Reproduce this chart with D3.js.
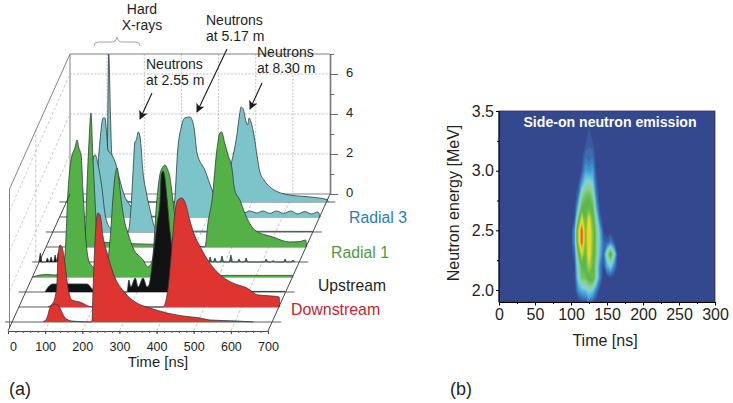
<!DOCTYPE html>
<html>
<head>
<meta charset="utf-8">
<script src="https://cdn.jsdelivr.net/npm/d3@7"></script>
<style>
	html, body { margin: 0; padding: 0; background: #fff; }
	svg { display: block; }
	text { font-family: "Liberation Sans", Arial, sans-serif; fill: #231f20; }
</style>
</head>
<body>
<svg id="chart" width="733" height="403"></svg>
<script>
// waterfall traces as [time ns, amplitude], slice 0 is the front one
const downstreamNear = [[83,0],[94,.2],[102,.7],[116,.9],[124,.85],[134,.5],[143,.2],[161,.05],[210,0],[215,.05],[218,1.6],[223,3.95],[231,5.45],[237,5.35],[245,4.25],[256,3.45],[272,2.45],[304,1.45],[336,.95],[371,.7],[417,.45],[460,.3],[506,.2],[533,.1],[605,.05],[650,0]];
const downstreamFar = [[78,0],[92,.2],[102,1],[105,2.35],[111,3.1],[116,3],[124,2.2],[132,1],[143,.35],[164,.25],[197,0],[388,0],[401,.85],[412,3],[420,4.7],[428,5.35],[439,5.45],[447,5.25],[460,4.35],[468,3.85],[493,2.85],[522,2],[549,1.5],[576,1.2],[614,.95],[644,.6],[681,.55],[701,.5],[702,0]];
const upstreamNear = [[52,0],[61,.25],[74,.4],[165,.4],[182,.1],[190,0],[273,0],[278,.6],[283,.25],[295,.7],[303,.25],[316,.7],[327,.25],[332,.35],[343,1.75],[354,3.45],[362,4.6],[365,5.85],[370,6.05],[375,5.7],[381,4.6],[389,2.95],[394,2.25],[405,1],[421,.2],[442,.03],[698,.03]];
const radial1Near = [[2,0],[21,.1],[42,.12],[61,.1],[80,.25],[88,1.2],[96,4.35],[104,5.85],[115,6.5],[120,6.85],[125,6.45],[131,6.1],[136,4.35],[144,1.85],[153,.75],[169,.45],[196,.35],[209,1.85],[217,4],[222,5],[228,5.45],[233,4.85],[239,3.85],[249,2.7],[257,2.2],[271,1.45],[298,.85],[311,.5],[322,.75],[335,3.85],[343,5.1],[351,5.5],[357,5.6],[362,5.45],[370,5],[378,3.85],[386,2.6],[397,1.1],[413,.25],[451,.05],[524,.08],[700,.08],[701,0]];
const upstreamSpikes = [[3,.45],[22,.2],[32,.25],[43,.35],[51,.45]];
const radial1Spikes = [[460,.25],[473,.2],[492,.3],[516,.35],[538,.15],[557,.2],[611,.15],[630,.08],[662,.15],[683,.1]];
const radial1Far = [[105,0],[110,2.85],[116,5.35],[121,6.7],[126,4.6],[132,2.35],[137,.75],[139,1.1],[141,.6],[143,.9],[145,.25],[414,.03],[428,0],[436,1.2],[447,2.35],[460,4.85],[468,5.7],[473,5.75],[481,5.2],[490,4.6],[500,4],[508,2.85],[522,2.35],[535,1.7],[562,.85],[611,.5],[656,.25],[683,.27],[699,.35],[702,0]];
const radial3Near = [[95,0],[102,2],[109,3.75],[114,3.85],[122,3.35],[133,2.1],[141,.85],[155,.2],[203,0],[211,1.35],[217,3.35],[221,4.5],[225,4.6],[230,5],[235,4.75],[243,2.95],[252,1.95],[262,1.1],[276,.2],[303,.05],[700,.03]];
const radial3Mid = [[90,0],[98,1.35],[109,3.85],[117,4.95],[122,4.95],[127,4.1],[130,3.35],[141,3.1],[152,2.6],[162,1.85],[176,1],[189,.6],[205,.25],[243,.05],[302,0],[310,.85],[318,3.35],[327,4.45],[337,4.95],[351,5],[362,4.45],[370,3.2],[391,2.35],[413,1.25],[437,.6],[464,.35],[499,.22],[512,.3],[531,.2],[547,.3],[566,.18],[584,.3],[603,.18],[623,.3],[641,.15],[660,.27],[679,.15],[695,.25],[701,.05],[702,0]];
const radial3Far = [[91,0],[102,1.6],[110,2.6],[114,7.4],[119,4.1],[123,2.1],[145,.6],[172,0],[400,0],[427,.85],[446,2.1],[457,3.1],[467,4.45],[470,4.75],[476,4.65],[484,4],[488,3.85],[492,4.2],[497,4],[505,3.35],[513,2.35],[521,1.5],[532,1.1],[548,.75],[570,.5],[602,.35],[656,.25],[702,.12],[705,0]];

const waterfallTicks = [0,100,200,300,400,500,600,700];
const heightTicks = [0,2,4,6];
const heightMinorTicks = [1,3,5,7];

// neutron spectrogram
const heatTimes = [95,100,105,110,115,120,125,130,135,140,145,150,155,160,165];
const heatEnergies = [3.5,3.4,3.3,3.2,3.1,3.0,2.9,2.8,2.7,2.6,2.5,2.4,2.3,2.2,2.1,2.0,1.9];
const heatValues = [
	[0,0,0,0,0,0,0,0,0,0,0,0,0,0,0],
	[0,0,0,0,0,0,.2,0,0,0,0,0,0,0,0],
	[0,0,0,0,0,0,.4,.1,0,0,0,0,0,0,0],
	[0,0,0,0,0,.3,.5,.4,0,0,0,0,0,0,0],
	[0,0,0,0,.1,.8,.6,.8,.1,0,0,0,0,0,0],
	[0,0,0,0,.3,1.4,1.2,1.4,.2,0,0,0,0,0,0],
	[0,0,0,.1,1.3,2.4,2.6,2.2,.4,0,0,0,0,0,0],
	[0,0,0,.6,3,4,4.2,3.4,.8,0,0,0,0,0,0],
	[0,0,0,1.8,4.5,4.7,5.2,4.4,1.6,.1,0,0,0,0,0],
	[0,0,.3,3.8,7.4,5,7.6,5.2,2.8,.6,0,0,0,0,0],
	[0,0,1.2,6.4,10,5.6,8.3,6,3.6,1.8,.2,0,0,0,0],
	[0,0,1.2,6.4,10,5.5,8.3,6,3.6,2,.6,.4,1,.3,0],
	[0,0,.6,4,7.2,5,8.2,5.6,3.6,1.8,.5,3,5.2,2.6,0],
	[0,0,.2,2.9,4.6,4.7,7,5.2,3,1,.2,1.6,2.4,1,0],
	[0,0,.1,2.4,4,4,5,5.4,3,1,0,0,0,0,0],
	[0,0,0,1.2,1.8,2,2.6,2.2,1,.1,0,0,0,0,0],
	[0,0,0,0,.1,.3,.8,.4,0,0,0,0,0,0,0]
];
const timeTicks = [0,50,100,150,200,250,300];
const timeMinorTicks = [25,75,125,175,225,275];
const energyTicks = [2.0,2.5,3.0,3.5];
const energyMinorTicks = [2.25,2.75,3.25];

!(function(){
	"use strict";

	const svg = d3.select('#chart');
	const cyan = '#7cc4c9', green = '#54b147', red = '#de3530', black = '#111214';
	const outline = '#2f3a3c';

	// ---- panel (a), three axes projected on the page
	const xTime = d3.scaleLinear().domain([0, 700]).range([8, 268]);
	const yHeight = d3.scaleLinear().domain([0, 7]).range([0, -140]);
	const ySlice = d3.scaleLinear().domain([-0.6, 8.533]).range([331, 194]);
	const xSlice = d3.scaleLinear().domain([-0.6, 8.533]).range([0, 62]);
	const backSlice = 8.533, frontSlice = -0.6;

	const px = (t, s) => xTime(t) + xSlice(s);
	const py = (a, s) => ySlice(s) + yHeight(a);

	const walls = svg.append('g').attr('fill', 'none');

	function wallLine(x1, y1, x2, y2, colour, width, dash) {
		walls.append('line')
			.attr('x1', x1).attr('y1', y1).attr('x2', x2).attr('y2', y2)
			.attr('stroke', colour).attr('stroke-width', width)
			.attr('stroke-dasharray', dash || null);
	}

	// dotted grid on floor, back wall and side wall
	waterfallTicks.slice(1, -1).forEach((t) => {
		wallLine(px(t, backSlice), py(7, backSlice), px(t, backSlice), py(0, backSlice), '#a9a9a9', 0.7, '2,1.5');
		wallLine(px(t, frontSlice), py(0, frontSlice), px(t, backSlice), py(0, backSlice), '#a9a9a9', 0.7, '3,2');
	});
	heightTicks.slice(1).forEach((a) => {
		wallLine(px(0, backSlice), py(a, backSlice), px(700, backSlice), py(a, backSlice), '#a9a9a9', 0.7, '2,1.5');
		wallLine(px(0, frontSlice) + 1.5, py(a, frontSlice), px(0, backSlice), py(a, backSlice), '#b5b5b5', 0.7, '3,2');
	});
	wallLine(px(0, 3.5), py(7, 3.5), px(0, 3.5), py(0, 3.5), '#a9a9a9', 0.7, '3,2');

	wallLine(px(0, backSlice), py(7, backSlice), px(700, backSlice), py(7, backSlice), '#808080', 1);
	wallLine(px(0, backSlice), py(0, backSlice), px(700, backSlice), py(0, backSlice), '#808080', 1);
	wallLine(px(0, backSlice), py(7, backSlice), px(0, backSlice), py(0, backSlice), '#b0b0b0', 1.6);
	wallLine(px(0, frontSlice) + 1.5, py(7, frontSlice) - 2, px(0, backSlice), py(7, backSlice), '#777', 0.9);
	wallLine(px(0, frontSlice) + 1.5, py(7, frontSlice) - 2, px(0, frontSlice) + 1.5, py(0, frontSlice) - 3, '#666', 0.8);

	// back to front so nearer traces hide farther ones
	const spikes = (list) => list.flatMap((d) => [[d[0] - 4, 0], [d[0], d[1]], [d[0] + 4, 0]]);
	const traces = [
		{ slice: 8, points: radial3Far, fill: cyan },
		{ slice: 7, points: radial3Mid, fill: cyan },
		{ slice: 6, points: radial3Near, fill: cyan },
		{ slice: 5, points: radial1Far, fill: green },
		{ slice: 4, points: spikes(upstreamSpikes), fill: black, sharp: true },
		{ slice: 4, points: spikes(radial1Spikes), fill: '#2f7d35', sharp: true },
		{ slice: 3, points: radial1Near, fill: green },
		{ slice: 2, points: upstreamNear, fill: black },
		{ slice: 1, points: downstreamFar, fill: red },
		{ slice: 0, points: downstreamNear, fill: red }
	];

	const traceGroup = svg.append('g');
	const baseline = (s) => {
		let long = s % 2 === 0;
		traceGroup.append('line')
			.attr('x1', px(0, s) - (long ? 7 : 0))
			.attr('x2', px(700, s) + (long ? 9 : 0))
			.attr('y1', py(0, s)).attr('y2', py(0, s))
			.attr('stroke', '#4c4c4c').attr('stroke-width', 0.9);
	};

	traces.forEach((tr, i) => {
		const curve = tr.sharp ? d3.curveLinear : d3.curveMonotoneX;
		const area = d3.area().curve(curve)
			.x((d) => px(d[0], tr.slice))
			.y0(py(0, tr.slice))
			.y1((d) => py(d[1], tr.slice));
		const top = d3.line().curve(curve)
			.x((d) => px(d[0], tr.slice))
			.y((d) => py(d[1], tr.slice));
		if (!traces[i - 1] || traces[i - 1].slice !== tr.slice) baseline(tr.slice);
		traceGroup.append('path').attr('d', area(tr.points)).attr('fill', tr.fill);
		traceGroup.append('path').attr('d', top(tr.points))
			.attr('fill', 'none').attr('stroke', outline).attr('stroke-width', 0.8);
	});

	// front edges of the floor
	svg.append('line')
		.attr('x1', px(0, frontSlice)).attr('y1', py(0, frontSlice))
		.attr('x2', px(0, backSlice)).attr('y2', py(0, backSlice))
		.attr('stroke', '#333').attr('stroke-width', 0.9);
	svg.append('line')
		.attr('x1', px(700, frontSlice)).attr('y1', py(0, frontSlice))
		.attr('x2', px(700, backSlice)).attr('y2', py(0, backSlice))
		.attr('stroke', '#333').attr('stroke-width', 0.9);

	// time axis at the front
	const axisTime = svg.append('g')
		.attr('transform', `translate(0,${py(0, frontSlice)})`)
		.call(d3.axisBottom(xTime).tickValues(waterfallTicks).tickSize(3).tickSizeOuter(0).tickPadding(8));
	axisTime.select('.domain').attr('stroke', '#333').attr('stroke-width', 0.9);
	axisTime.selectAll('line').attr('stroke', '#333');
	axisTime.selectAll('text').attr('font-size', 12.5).attr('font-family', null)
		.attr('dx', (d) => d === 0 ? 5 : 0);
	svg.append('g')
		.attr('transform', `translate(0,${py(0, frontSlice)})`)
		.call(d3.axisBottom(xTime).tickValues(d3.range(0, 701, 20)).tickSize(2).tickSizeOuter(0).tickFormat(''))
		.call((g) => g.select('.domain').remove())
		.selectAll('line').attr('stroke', '#555');

	// height axis on the back wall
	const yBack = d3.scaleLinear().domain([0, 7]).range([py(0, backSlice), py(7, backSlice)]);
	const axisBack = svg.append('g')
		.attr('transform', `translate(${px(700, backSlice)},0)`)
		.call(d3.axisRight(yBack).tickValues(heightTicks).tickFormat(d3.format('d')).tickSize(8).tickSizeOuter(0).tickPadding(8));
	axisBack.select('.domain').attr('stroke', '#777').attr('stroke-width', 1.6);
	axisBack.selectAll('line').attr('stroke', '#666');
	axisBack.selectAll('text').attr('font-size', 13).attr('font-family', null).attr('dy', '0.2em');
	svg.append('g')
		.attr('transform', `translate(${px(700, backSlice)},0)`)
		.call(d3.axisRight(yBack).tickValues(heightMinorTicks).tickSize(4).tickSizeOuter(0).tickFormat(''))
		.call((g) => g.select('.domain').remove())
		.selectAll('line').attr('stroke', '#666');

	// labels and arrows
	const label = (x, y, txt, size, colour, anchor) => svg.append('text')
		.attr('x', x).attr('y', y).attr('font-size', size)
		.attr('text-anchor', anchor || 'start')
		.style('fill', colour || null)
		.text(txt);

	label(158, 367, 'Time [ns]', 14.8, null, 'middle');
	label(142, 14, 'Hard', 14, null, 'middle');
	label(142, 30, 'X-rays', 14, null, 'middle');
	label(146, 69, 'Neutrons', 14);
	label(146, 85, 'at 2.55 m', 14);
	label(206, 25, 'Neutrons', 14);
	label(206, 41, 'at 5.17 m', 14);
	label(257, 57, 'Neutrons', 14);
	label(257, 73, 'at 8.30 m', 14);
	label(349, 223, 'Radial 3', 15.8, '#2b7fb0');
	label(331, 258, 'Radial 1', 15.8, '#4f9a45');
	label(318, 291, 'Upstream', 15.7, '#231f20');
	label(291, 315, 'Downstream', 15.9, '#c1272d');
	label(9, 395, '(a)', 18);
	label(450, 395, '(b)', 18);

	svg.append('defs').append('marker')
		.attr('id', 'head').attr('viewBox', '0 0 10 10')
		.attr('refX', 9).attr('refY', 5)
		.attr('markerUnits', 'userSpaceOnUse')
		.attr('markerWidth', 9).attr('markerHeight', 9).attr('orient', 'auto')
		.append('path').attr('d', 'M0,0L10,5L0,10L2.5,5Z').attr('fill', '#1a1a1a');
	[[152, 93, 140, 119], [227, 49, 197, 112], [262, 83, 250, 109]].forEach((a) => {
		svg.append('line')
			.attr('x1', a[0]).attr('y1', a[1]).attr('x2', a[2]).attr('y2', a[3])
			.attr('stroke', '#1a1a1a').attr('stroke-width', 1.1)
			.attr('marker-end', 'url(#head)');
	});
	svg.append('path')
		.attr('d', 'M94,46 Q94,42 98,42 L113,42 Q116,42 117,37 Q118,42 121,42 L136,42 Q140,42 140,46')
		.attr('fill', 'none').attr('stroke', '#999').attr('stroke-width', 0.9);

	// ---- panel (b)
	const xHeat = d3.scaleLinear().domain([0, 300]).range([499, 715]);
	const yHeat = d3.scaleLinear().domain([2.0, 3.5]).range([290, 111]);
	const heatBottom = 302;

	const defs = svg.select('defs');
	defs.append('clipPath').attr('id', 'heatClip').append('rect')
		.attr('x', xHeat(0)).attr('y', yHeat(3.5))
		.attr('width', xHeat(300) - xHeat(0)).attr('height', heatBottom - yHeat(3.5));
	defs.append('filter').attr('id', 'soft')
		.attr('x', '-10%').attr('y', '-10%').attr('width', '120%').attr('height', '120%')
		.append('feGaussianBlur').attr('stdDeviation', 0.7);

	const heatColour = d3.scaleLinear()
		.domain([0, .5, 1.3, 2.2, 3.2, 4.6, 6, 7.6, 8.6, 10])
		.range(['#34488f', '#3a6cb0', '#45a5e0', '#7fd3d8', '#8fd08a', '#55b54a', '#8cc63f', '#f4e22c', '#f6a623', '#e2402a'])
		.interpolate(d3.interpolateRgb);

	svg.append('rect')
		.attr('x', xHeat(0)).attr('y', yHeat(3.5))
		.attr('width', xHeat(300) - xHeat(0)).attr('height', heatBottom - yHeat(3.5))
		.attr('fill', heatColour(0));

	const cols = heatTimes.length, rows = heatEnergies.length;
	const contours = d3.contours().size([cols, rows]).smooth(true)
		.thresholds(d3.range(0.25, 10, 0.25))(heatValues.flat());
	const heatPath = d3.geoPath(d3.geoTransform({
		point: function(gx, gy) {
			let t = heatTimes[0] + (gx - 0.5) * (heatTimes[1] - heatTimes[0]),
				e = heatEnergies[0] + (gy - 0.5) * (heatEnergies[1] - heatEnergies[0]);
			this.stream.point(xHeat(t), yHeat(e));
		}
	}));
	svg.append('g').attr('clip-path', 'url(#heatClip)')
		.append('g').attr('filter', 'url(#soft)')
		.selectAll('path').data(contours).enter().append('path')
		.attr('d', heatPath)
		.attr('fill', (d) => heatColour(d.value));

	svg.append('rect')
		.attr('x', xHeat(0)).attr('y', yHeat(3.5))
		.attr('width', xHeat(300) - xHeat(0)).attr('height', heatBottom - yHeat(3.5))
		.attr('fill', 'none').attr('stroke', '#333').attr('stroke-width', 0.8);

	const axisX = svg.append('g')
		.attr('transform', `translate(0,${heatBottom})`)
		.call(d3.axisBottom(xHeat).tickValues(timeTicks).tickSize(3.5).tickSizeOuter(0).tickPadding(3));
	axisX.selectAll('text').attr('font-size', 16).attr('font-family', null);
	svg.append('g')
		.attr('transform', `translate(0,${heatBottom})`)
		.call(d3.axisBottom(xHeat).tickValues(timeMinorTicks).tickSize(2).tickSizeOuter(0).tickFormat(''))
		.call((g) => g.select('.domain').remove());

	const axisY = svg.append('g')
		.attr('transform', `translate(${xHeat(0)},0)`)
		.call(d3.axisLeft(yHeat).tickValues(energyTicks).tickFormat(d3.format('.1f')).tickSize(3).tickSizeOuter(0).tickPadding(2));
	axisY.select('.domain').attr('d', `M0,${yHeat(3.5)}V${heatBottom}`);
	axisY.selectAll('text').attr('font-size', 16).attr('font-family', null);
	svg.append('g')
		.attr('transform', `translate(${xHeat(0)},0)`)
		.call(d3.axisLeft(yHeat).tickValues(energyMinorTicks).tickSize(2).tickSizeOuter(0).tickFormat(''))
		.call((g) => g.select('.domain').remove());

	label(610, 127, 'Side-on neutron emission', 14.1, '#fff', 'middle').attr('font-weight', 'bold');
	label(605, 346, 'Time [ns]', 16, null, 'middle');
	svg.append('text')
		.attr('transform', 'translate(459,203) rotate(-90)')
		.attr('text-anchor', 'middle').attr('font-size', 16)
		.text('Neutron energy [MeV]');
}());
</script>
</body>
</html>
